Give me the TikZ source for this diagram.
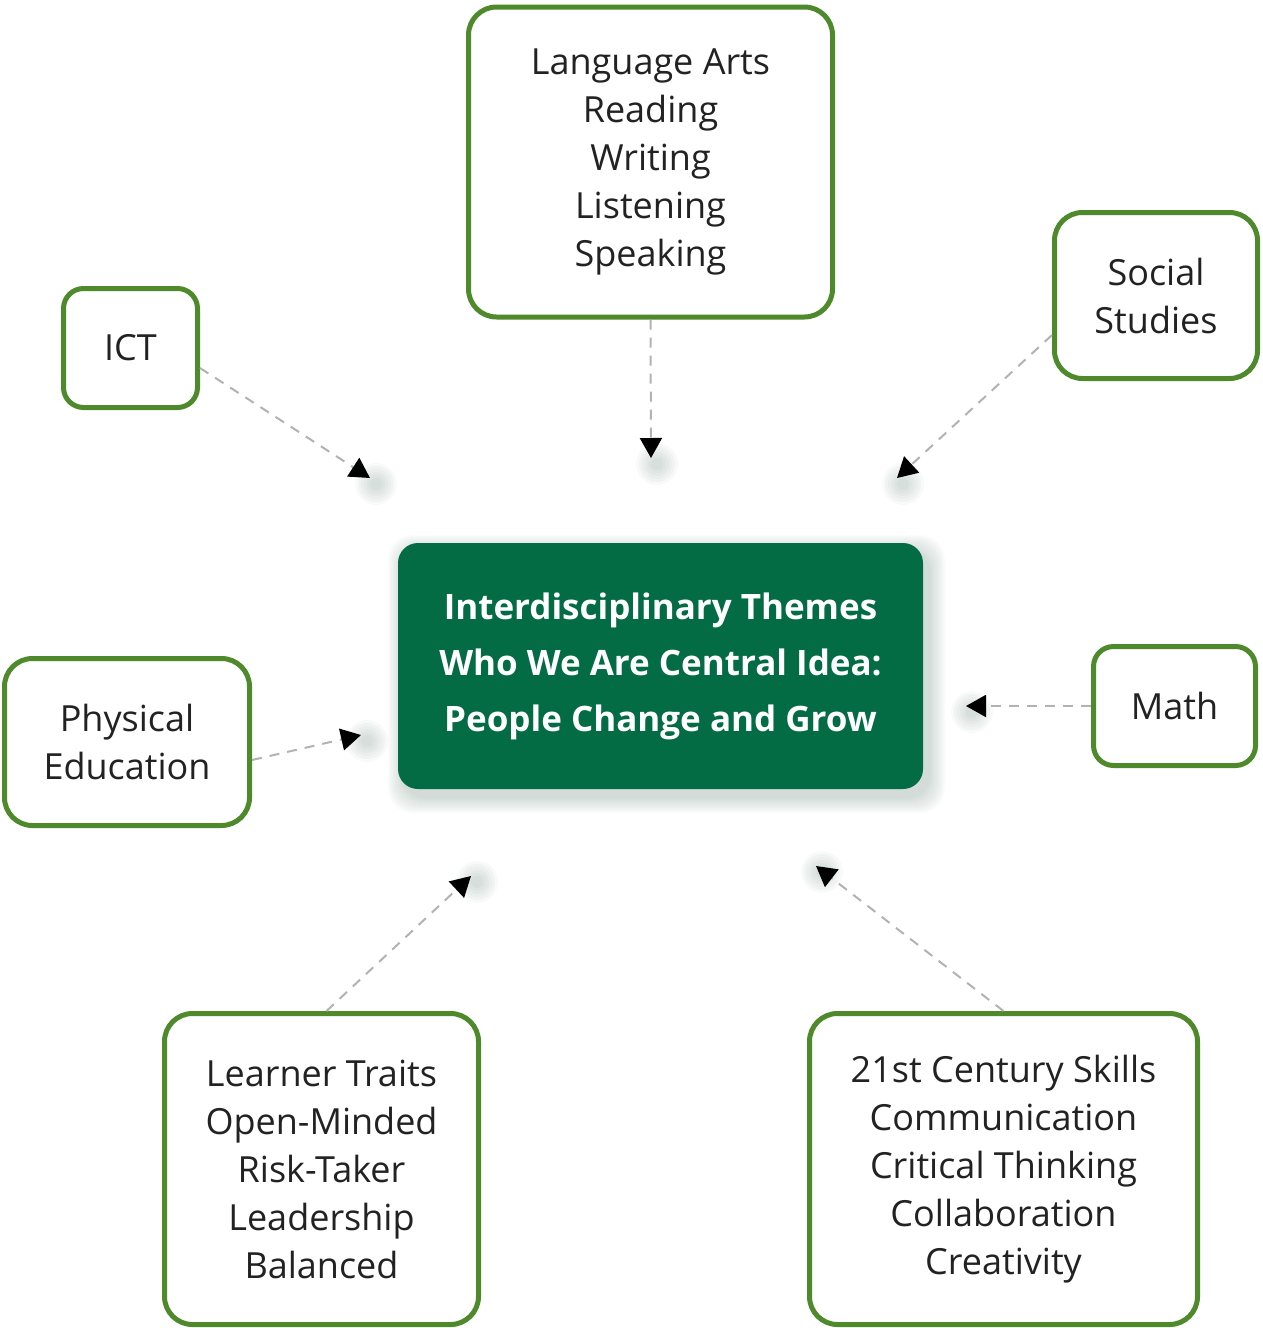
\documentclass[tikz,border=0pt]{standalone}
\usepackage{fontspec}
\setmainfont{Open Sans}
\usetikzlibrary{arrows.meta}
\definecolor{bordergreen}{HTML}{4E8A2B}
\definecolor{centergreen}{HTML}{036C45}
\definecolor{txt}{HTML}{222222}
\definecolor{shadowc}{HTML}{2F5A48}
\begin{document}
\begin{tikzpicture}[x=0.5pt,y=-0.5pt,
  box/.style={draw=bordergreen, line width=2.5pt, rounded corners=14pt, fill=white,
    align=center, text=txt, font=\fontsize{18}{24}\selectfont, inner sep=0pt},
  centerbox/.style={fill=centergreen, rounded corners=10pt, align=center, text=white,
    font=\bfseries\fontsize{17.5}{28}\selectfont, inner sep=0pt},
  conn/.style={draw=black!30, line width=1pt, dash pattern=on 5pt off 4pt,
    -{Triangle[length=10pt,width=11pt,color=black]}}]
\useasboundingbox (0,0) rectangle (1263,1328);
% soft shadow of the centre box
\foreach \i in {1,...,10}{
  \fill[shadowc, opacity=0.025, rounded corners=12pt]
    (398+6-\i*1.6, 541+10-\i*1.6) rectangle (923+6+\i*1.6, 787+10+\i*1.6);
}
\node[centerbox, minimum width=262.5pt, minimum height=123pt] (center) at (660.5,666)
  {Interdisciplinary Themes\\Who We Are Central Idea:\\People Change and Grow};

\node[box, minimum width=182pt, minimum height=155pt] (lang) at (650.5,162)
  {Language Arts\\Reading\\Writing\\Listening\\Speaking};
\node[box, minimum width=67pt, minimum height=59.5pt, rounded corners=10pt] (ict) at (130.5,348) {ICT};
\node[box, minimum width=101.5pt, minimum height=83pt] (social) at (1156,295.5) {Social\\Studies};
\node[box, minimum width=122.5pt, minimum height=83.5pt] (pe) at (127,742) {Physical\\Education};
\node[box, minimum width=81pt, minimum height=59.5pt, rounded corners=10pt] (math) at (1174.5,706) {Math};
\node[box, minimum width=157pt, minimum height=155.5pt] (learner) at (321.5,1169)
  {Learner Traits\\Open-Minded\\Risk-Taker\\Leadership\\Balanced};
\node[box, minimum width=194pt, minimum height=155.5pt] (skills) at (1003.5,1169)
  {21st Century Skills\\Communication\\Critical Thinking\\Collaboration\\Creativity};

% arrow end points
\coordinate (tict) at (370,478);
\coordinate (tlang) at (651,458);
\coordinate (tsoc) at (897,478);
\coordinate (tpe) at (361,735);
\coordinate (tmath) at (966,706);
\coordinate (tlearn) at (471,876);
\coordinate (tskill) at (816,866);

% soft shadows behind arrow tips
\foreach \c in {tict,tlang,tsoc,tpe,tmath,tlearn,tskill}{
  \foreach \r in {3,4.5,6,7.5,9,10.5}{
    \fill[shadowc, opacity=0.035] ([xshift=3pt,yshift=-3pt]\c) circle (\r pt);
  }
}

\draw[conn] ([yshift=-10pt]ict.east) -- (tict);
\draw[conn] (lang.south) -- (tlang);
\draw[conn] ([yshift=-19.75pt]social.west) -- (tsoc);
\draw[conn] ([yshift=-9pt]pe.east) -- (tpe);
\draw[conn] (math.west) -- (tmath);
\draw[conn] ([xshift=2.5pt]learner.north) -- (tlearn);
\draw[conn] (skills.north) -- (tskill);
\end{tikzpicture}
\end{document}
